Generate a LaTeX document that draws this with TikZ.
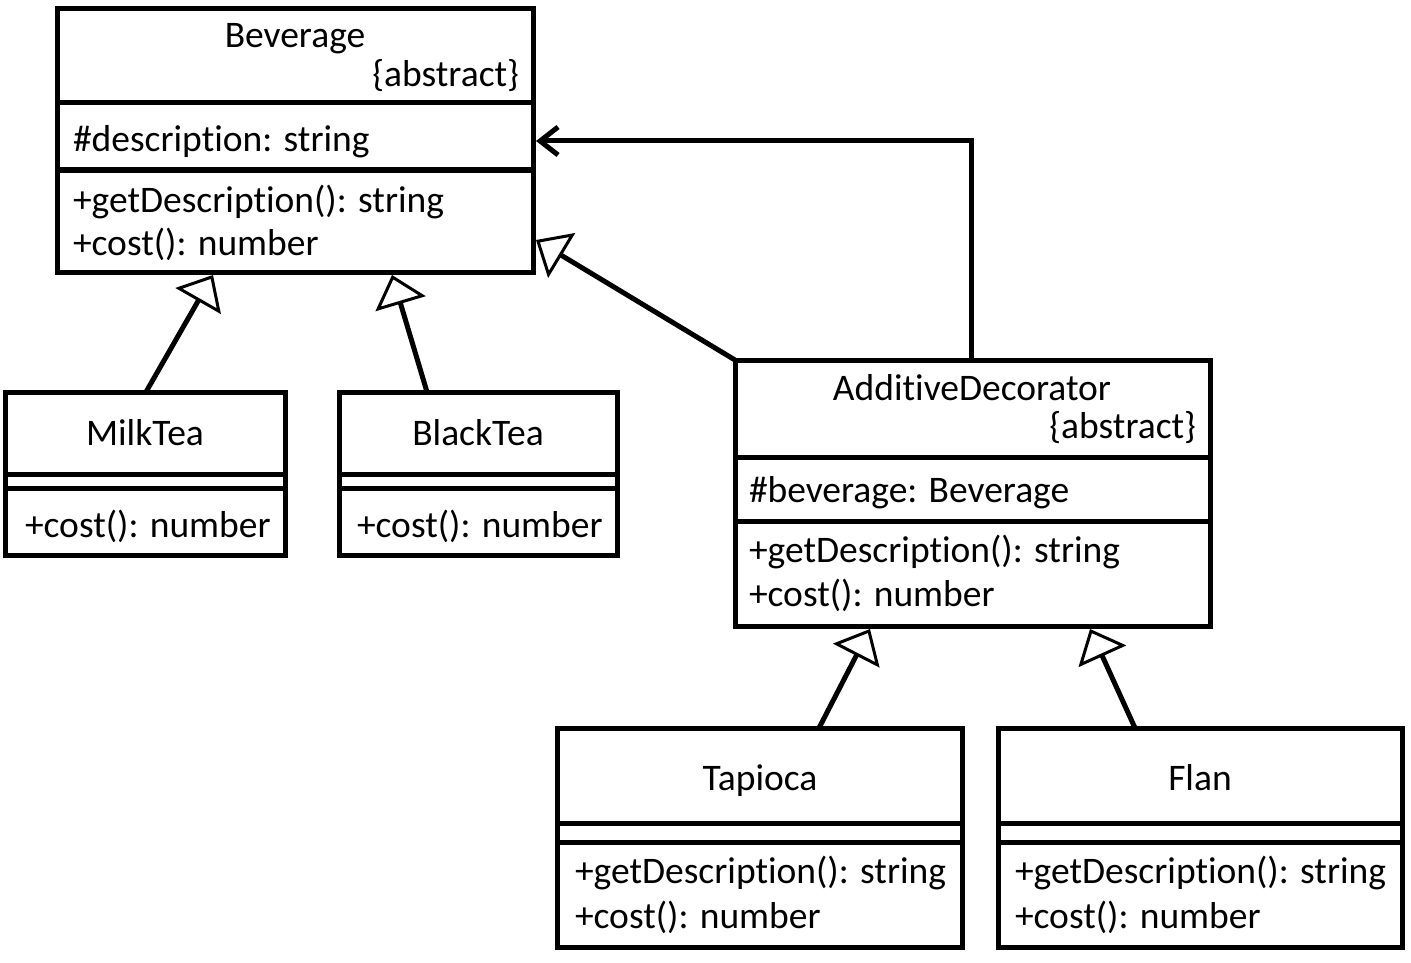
\documentclass[tikz,border=0pt]{standalone}
\usepackage{fontspec}
\setmainfont{Carlito}[Ligatures={NoCommon}]
\usetikzlibrary{arrows.meta,calc}
\begin{document}
\begin{tikzpicture}[x=1pt,y=-1pt,
 cls/.style={draw, line width=5pt, inner sep=0pt, outer sep=0pt, anchor=north west},
 txt/.style={inner sep=0pt, outer sep=0pt, font=\fontsize{37.5}{45}\selectfont},
 sepline/.style={line width=5pt},
 gen/.style={line width=5pt, -{Triangle[open, length=30pt, width=52pt, line width=3pt]}},
 assoc/.style={line width=5pt, -{Straight Barb[length=18pt,width=28pt]}}
]
\useasboundingbox (0,0) rectangle (1411,963);
% Beverage
\node[cls, minimum width=476pt, minimum height=263pt] (bev) at (57,9) {};
\draw[sepline] ($(bev.north west)+(0,94)$) -- ($(bev.north east)+(0,94)$);
\draw[sepline] ($(bev.north west)+(0,161)$) -- ($(bev.north east)+(0,161)$);
\node[txt, anchor=base] (bevname) at (295,48) {Beverage};
\node[txt, anchor=base east] (bevabs) at (519,87) {\{abstract\}};
\node[txt, anchor=base west] (bevattr) at (73,152) {\#description: string};
\node[txt, anchor=base west] (bevmA) at (73,212) {+getDescription(): string};
\node[txt, anchor=base west] (bevmB) at (73,255) {+cost(): number};
% MilkTea
\node[cls, minimum width=280pt, minimum height=163pt] (milk) at (5,392) {};
\draw[sepline] ($(milk.north west)+(0,82)$) -- ($(milk.north east)+(0,82)$);
\draw[sepline] ($(milk.north west)+(0,96)$) -- ($(milk.north east)+(0,96)$);
\node[txt, anchor=base] (milkname) at (145,445) {MilkTea};
\node[txt, anchor=base west] (milkm) at (25,537) {+cost(): number};
% BlackTea
\node[cls, minimum width=278pt, minimum height=163pt] (black) at (339,392) {};
\draw[sepline] ($(black.north west)+(0,82)$) -- ($(black.north east)+(0,82)$);
\draw[sepline] ($(black.north west)+(0,96)$) -- ($(black.north east)+(0,96)$);
\node[txt, anchor=base] (blackname) at (478,445) {BlackTea};
\node[txt, anchor=base west] (blackm) at (357,537) {+cost(): number};
% AdditiveDecorator
\node[cls, minimum width=475pt, minimum height=266pt] (ad) at (735,360) {};
\draw[sepline] ($(ad.north west)+(0,97)$) -- ($(ad.north east)+(0,97)$);
\draw[sepline] ($(ad.north west)+(0,161)$) -- ($(ad.north east)+(0,161)$);
\node[txt, anchor=base] (adname) at (972,400) {AdditiveDecorator};
\node[txt, anchor=base east] (adabs) at (1196,438) {\{abstract\}};
\node[txt, anchor=base west] (adattr) at (749,502) {\#beverage: Beverage};
\node[txt, anchor=base west] (admA) at (749,562) {+getDescription(): string};
\node[txt, anchor=base west] (admB) at (749,606) {+cost(): number};
% Tapioca
\node[cls, minimum width=405pt, minimum height=219pt] (tap) at (557,728) {};
\draw[sepline] ($(tap.north west)+(0,95)$) -- ($(tap.north east)+(0,95)$);
\draw[sepline] ($(tap.north west)+(0,114)$) -- ($(tap.north east)+(0,114)$);
\node[txt, anchor=base] (tapname) at (760,790) {Tapioca};
\node[txt, anchor=base west] (tapmA) at (575,883) {+getDescription(): string};
\node[txt, anchor=base west] (tapmB) at (575,928) {+cost(): number};
% Flan
\node[cls, minimum width=404pt, minimum height=219pt] (flan) at (998,728) {};
\draw[sepline] ($(flan.north west)+(0,95)$) -- ($(flan.north east)+(0,95)$);
\draw[sepline] ($(flan.north west)+(0,114)$) -- ($(flan.north east)+(0,114)$);
\node[txt, anchor=base] (flanname) at (1200,790) {Flan};
\node[txt, anchor=base west] (flanmA) at (1015,883) {+getDescription(): string};
\node[txt, anchor=base west] (flanmB) at (1015,928) {+cost(): number};
% connectors
\draw[gen] ($(milk.north west)+(141,0)$) -- ($(bev.south west)+(156,3)$);
\draw[gen] ($(black.north west)+(88,0)$) -- ($(bev.south west)+(335,3)$);
\draw[gen] (ad.north west) -- ($(bev.north east)+(3,231)$);
\draw[assoc] ($(ad.north west)+(236,0)$) |- ($(bev.north east)+(3,132)$);
\draw[gen] ($(tap.north west)+(262,0)$) -- ($(ad.south west)+(135,3)$);
\draw[gen] ($(flan.north west)+(137,0)$) -- ($(ad.south west)+(355,3)$);
\end{tikzpicture}
\end{document}
